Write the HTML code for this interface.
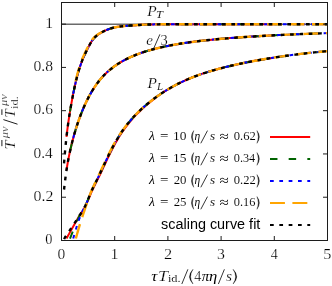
<!DOCTYPE html>
<html><head><meta charset="utf-8"><title>plot</title>
<style>html,body{margin:0;padding:0;background:#fff;}svg{display:block;}</style>
</head><body>
<svg width="332" height="286" viewBox="0 0 332 286">
<rect x="0" y="0" width="332" height="286" fill="#fff"/>
<line x1="61.5" y1="24.14" x2="327.5" y2="24.14" stroke="#6a6a6a" stroke-width="1.5"/>
<path d="M66.50,136.85 L66.51,136.78 L66.53,136.56 L66.57,136.20 L66.63,135.69 L66.71,135.05 L66.80,134.28 L66.90,133.37 L67.03,132.35 L67.17,131.21 L67.32,129.95 L67.50,128.60 L67.68,127.15 L67.89,125.61 L68.11,123.98 L68.35,122.28 L68.61,120.52 L68.88,118.68 L69.16,116.79 L69.47,114.84 L69.79,112.84 L70.13,110.78 L70.48,108.68 L70.85,106.53 L71.24,104.33 L71.64,102.08 L72.06,99.80 L72.49,97.49 L72.94,95.15 L73.41,92.79 L73.90,90.43 L74.40,88.06 L74.92,85.70 L75.45,83.34 L76.00,81.01 L76.57,78.70 L77.15,76.42 L77.75,74.18 L78.37,71.99 L79.00,69.84 L79.65,67.74 L80.32,65.71 L81.00,63.73 L81.70,61.83 L82.41,59.98 L83.15,58.19 L83.89,56.45 L84.66,54.74 L85.44,53.05 L86.24,51.39 L87.05,49.75 L87.88,48.11 L88.73,46.48 L89.59,44.87 L90.47,43.30 L91.37,41.81 L92.28,40.43 L93.21,39.16 L94.15,38.02 L95.11,37.02 L96.09,36.12 L97.09,35.32 L98.10,34.58 L99.12,33.89 L100.17,33.23 L101.23,32.61 L102.31,32.02 L103.40,31.45 L104.51,30.91 L105.63,30.39 L106.78,29.90 L107.94,29.44 L109.11,29.01 L110.30,28.61 L111.51,28.24 L112.74,27.90 L113.98,27.59 L115.23,27.31 L116.51,27.06 L117.80,26.83 L119.11,26.63 L120.43,26.45 L121.77,26.30 L123.13,26.16 L124.50,26.03 L125.89,25.91 L127.29,25.80 L128.71,25.69 L130.15,25.59 L131.61,25.48 L133.08,25.38 L134.57,25.28 L136.07,25.17 L137.59,25.06 L139.13,24.96 L140.68,24.86 L142.25,24.77 L143.84,24.69 L145.44,24.62 L147.06,24.56 L148.70,24.51 L150.35,24.46 L152.02,24.42 L153.70,24.39 L155.40,24.36 L157.12,24.34 L158.86,24.32 L160.61,24.30 L162.37,24.28 L164.16,24.27 L165.96,24.26 L167.77,24.25 L169.61,24.24 L171.46,24.24 L173.32,24.23 L175.20,24.23 L177.10,24.22 L179.02,24.22 L180.95,24.22 L182.90,24.21 L184.86,24.21 L186.84,24.21 L188.84,24.21 L190.85,24.21 L192.89,24.21 L194.93,24.21 L196.99,24.20 L199.07,24.20 L201.17,24.20 L203.28,24.20 L205.41,24.20 L207.56,24.20 L209.72,24.20 L211.90,24.20 L214.09,24.20 L216.30,24.20 L218.53,24.20 L220.77,24.20 L223.03,24.20 L225.31,24.20 L227.60,24.20 L229.91,24.20 L232.24,24.20 L234.58,24.20 L236.94,24.20 L239.32,24.20 L241.71,24.20 L244.12,24.20 L246.54,24.20 L248.98,24.20 L251.44,24.20 L253.92,24.20 L256.41,24.20 L258.91,24.20 L261.44,24.20 L263.98,24.20 L266.53,24.20 L269.11,24.20 L271.69,24.20 L274.30,24.20" fill="none" stroke="#ff0000" stroke-width="2.0"/>
<path d="M66.50,170.23 L66.51,170.17 L66.53,170.01 L66.57,169.74 L66.63,169.36 L66.71,168.88 L66.80,168.30 L66.90,167.62 L67.03,166.85 L67.17,166.00 L67.32,165.06 L67.50,164.04 L67.68,162.95 L67.89,161.80 L68.11,160.59 L68.35,159.32 L68.61,158.00 L68.88,156.64 L69.16,155.22 L69.47,153.77 L69.79,152.28 L70.13,150.74 L70.48,149.18 L70.85,147.57 L71.24,145.94 L71.64,144.28 L72.06,142.59 L72.49,140.88 L72.94,139.15 L73.41,137.40 L73.90,135.64 L74.40,133.87 L74.92,132.09 L75.45,130.30 L76.00,128.50 L76.57,126.71 L77.15,124.91 L77.75,123.11 L78.37,121.31 L79.00,119.51 L79.65,117.72 L80.32,115.93 L81.00,114.15 L81.70,112.38 L82.41,110.61 L83.15,108.85 L83.89,107.11 L84.66,105.37 L85.44,103.65 L86.24,101.95 L87.05,100.26 L87.88,98.60 L88.73,96.96 L89.59,95.35 L90.47,93.76 L91.37,92.20 L92.28,90.67 L93.21,89.18 L94.15,87.71 L95.11,86.27 L96.09,84.86 L97.09,83.49 L98.10,82.15 L99.12,80.84 L100.17,79.57 L101.23,78.33 L102.31,77.12 L103.40,75.94 L104.51,74.79 L105.63,73.68 L106.78,72.59 L107.94,71.54 L109.11,70.51 L110.30,69.50 L111.51,68.53 L112.74,67.58 L113.98,66.65 L115.23,65.75 L116.51,64.88 L117.80,64.02 L119.11,63.19 L120.43,62.39 L121.77,61.60 L123.13,60.83 L124.50,60.09 L125.89,59.36 L127.29,58.66 L128.71,57.97 L130.15,57.30 L131.61,56.65 L133.08,56.02 L134.57,55.40 L136.07,54.80 L137.59,54.21 L139.13,53.64 L140.68,53.09 L142.25,52.55 L143.84,52.02 L145.44,51.51 L147.06,51.01 L148.70,50.53 L150.35,50.05 L152.02,49.59 L153.70,49.14 L155.40,48.70 L157.12,48.27 L158.86,47.85 L160.61,47.45 L162.37,47.05 L164.16,46.66 L165.96,46.29 L167.77,45.92 L169.61,45.56 L171.46,45.21 L173.32,44.87 L175.20,44.53 L177.10,44.21 L179.02,43.89 L180.95,43.58 L182.90,43.28 L184.86,42.98 L186.84,42.69 L188.84,42.41 L190.85,42.13 L192.89,41.87 L194.93,41.60 L196.99,41.35 L199.07,41.09 L201.17,40.85 L203.28,40.61 L205.41,40.37 L207.56,40.14 L209.72,39.92 L211.90,39.70 L214.09,39.48 L216.30,39.27 L218.53,39.07 L220.77,38.86 L223.03,38.67 L225.31,38.47 L227.60,38.28 L229.91,38.10 L232.24,37.92 L234.58,37.74 L236.94,37.56 L239.32,37.39 L241.71,37.22 L244.12,37.06 L246.54,36.90 L248.98,36.74 L251.44,36.58 L253.92,36.43 L256.41,36.28 L258.91,36.13 L261.44,35.99 L263.98,35.85 L266.53,35.71 L269.11,35.57 L271.69,35.43 L274.30,35.30" fill="none" stroke="#ff0000" stroke-width="2.0"/>
<path d="M66.50,238.55 L66.83,237.96 L67.15,237.37 L67.47,236.78 L67.79,236.20 L68.12,235.61 L68.44,235.03 L68.76,234.45 L69.08,233.87 L69.41,233.29 L69.73,232.71 L70.05,232.13 L70.37,231.56 L70.70,230.98 L71.02,230.40 L71.34,229.83 L71.67,229.25 L71.99,228.67 L72.31,228.10 L72.63,227.52 L72.96,226.95 L73.28,226.38 L73.60,225.80 L73.93,225.23 L74.25,224.66 L74.58,224.09 L74.90,223.52 L75.22,222.95 L75.55,222.39 L75.87,221.82 L76.20,221.26 L76.52,220.70 L76.85,220.14 L77.17,219.58 L77.50,219.03 L77.82,218.48 L78.15,217.93 L78.48,217.39 L78.80,216.86 L79.13,216.34 L79.14,216.32 L79.18,216.26 L79.24,216.16 L79.34,216.03 L79.45,215.85 L79.60,215.63 L79.77,215.38 L79.96,215.08 L80.18,214.75 L80.43,214.38 L80.71,213.97 L81.01,213.51 L81.34,213.02 L81.69,212.48 L82.07,211.89 L82.48,211.25 L82.92,210.55 L83.38,209.79 L83.87,208.95 L84.39,208.04 L84.93,207.03 L85.50,205.93 L86.10,204.72 L86.72,203.38 L87.37,201.91 L88.05,200.32 L88.75,198.61 L89.47,196.82 L90.22,195.00 L90.99,193.17 L91.79,191.37 L92.61,189.59 L93.45,187.81 L94.32,186.04 L95.22,184.24 L96.14,182.41 L97.08,180.53 L98.05,178.59 L99.05,176.57 L100.07,174.46 L101.11,172.26 L102.18,169.99 L103.28,167.65 L104.40,165.26 L105.54,162.82 L106.71,160.34 L107.91,157.84 L109.13,155.33 L110.38,152.81 L111.65,150.29 L112.94,147.78 L114.27,145.30 L115.61,142.85 L116.98,140.43 L118.38,138.07 L119.80,135.76 L121.25,133.50 L122.72,131.31 L124.22,129.18 L125.75,127.10 L127.30,125.07 L128.87,123.10 L130.47,121.17 L132.10,119.29 L133.75,117.45 L135.43,115.65 L137.13,113.89 L138.85,112.17 L140.60,110.48 L142.37,108.83 L144.17,107.19 L145.98,105.59 L147.82,104.00 L149.67,102.43 L151.55,100.88 L153.45,99.35 L155.38,97.84 L157.35,96.37 L159.35,94.94 L161.38,93.54 L163.44,92.18 L165.53,90.85 L167.64,89.55 L169.79,88.28 L171.96,87.04 L174.16,85.83 L176.38,84.66 L178.63,83.51 L180.91,82.39 L183.21,81.30 L185.54,80.25 L187.89,79.22 L190.27,78.22 L192.68,77.26 L195.11,76.32 L197.56,75.41 L200.04,74.53 L202.55,73.67 L205.08,72.83 L207.64,72.02 L210.23,71.23 L212.84,70.46 L215.47,69.72 L218.14,68.98 L220.82,68.27 L223.54,67.57 L226.28,66.89 L229.04,66.23 L231.83,65.57 L234.65,64.93 L237.49,64.31 L240.36,63.69 L243.25,63.09 L246.17,62.49 L249.11,61.91 L252.08,61.34 L255.08,60.78 L258.10,60.23 L261.15,59.69 L264.22,59.16 L267.32,58.64 L270.45,58.14 L273.60,57.64" fill="none" stroke="#ff0000" stroke-width="2.0"/>
<path d="M70.01,111.47 L70.02,111.41 L70.05,111.22 L70.10,110.92 L70.17,110.49 L70.27,109.94 L70.38,109.27 L70.51,108.49 L70.66,107.60 L70.84,106.60 L71.03,105.49 L71.24,104.28 L71.48,102.96 L71.73,101.56 L72.01,100.06 L72.30,98.48 L72.62,96.82 L72.96,95.09 L73.31,93.30 L73.69,91.44 L74.09,89.53 L74.50,87.58 L74.94,85.59 L75.40,83.57 L75.88,81.53 L76.38,79.47 L76.90,77.41 L77.44,75.35 L78.00,73.30 L78.58,71.27 L79.18,69.26 L79.80,67.28 L80.44,65.34 L81.10,63.44 L81.79,61.60 L82.49,59.80 L83.21,58.03 L83.96,56.31 L84.72,54.60 L85.50,52.92 L86.31,51.25 L87.13,49.58 L87.98,47.92 L88.84,46.26 L89.73,44.61 L90.64,43.02 L91.56,41.50 L92.51,40.09 L93.48,38.81 L94.47,37.68 L95.47,36.67 L96.50,35.78 L97.55,34.97 L98.62,34.22 L99.71,33.51 L100.82,32.84 L101.95,32.21 L103.10,31.60 L104.27,31.02 L105.47,30.46 L106.68,29.94 L107.91,29.45 L109.16,28.99 L110.44,28.56 L111.73,28.17 L113.04,27.82 L114.38,27.50 L115.73,27.21 L117.11,26.95 L118.50,26.72 L119.92,26.52 L121.35,26.34 L122.81,26.19 L124.29,26.05 L125.79,25.92 L127.30,25.80 L128.84,25.68 L130.40,25.57 L131.98,25.46 L133.58,25.34 L135.20,25.23 L136.84,25.12 L138.50,25.00 L140.18,24.89 L141.88,24.79 L143.60,24.70 L145.34,24.62 L147.10,24.56 L148.88,24.50 L150.69,24.45 L152.51,24.41 L154.35,24.38 L156.22,24.35 L158.10,24.33 L160.01,24.31 L161.93,24.29 L163.88,24.27 L165.84,24.26 L167.83,24.25 L169.84,24.24 L171.86,24.24 L173.91,24.23 L175.98,24.22 L178.07,24.22 L180.17,24.22 L182.30,24.21 L184.45,24.21 L186.62,24.21 L188.81,24.21 L191.02,24.21 L193.25,24.21 L195.50,24.20 L197.77,24.20 L200.06,24.20 L202.38,24.20 L204.71,24.20 L207.06,24.20 L209.44,24.20 L211.83,24.20 L214.24,24.20 L216.68,24.20 L219.13,24.20 L221.61,24.20 L224.10,24.20 L226.62,24.20 L229.15,24.20 L231.71,24.20 L234.29,24.20 L236.88,24.20 L239.50,24.20 L242.14,24.20 L244.80,24.20 L247.48,24.20 L250.18,24.20 L252.89,24.20 L255.63,24.20 L258.39,24.20 L261.18,24.20 L263.98,24.20 L266.80,24.20 L269.64,24.20 L272.50,24.20 L275.38,24.20 L278.29,24.20 L281.21,24.20 L284.15,24.20 L287.12,24.20 L290.10,24.20 L293.11,24.20 L296.13,24.20 L299.18,24.20 L302.24,24.20 L305.33,24.20 L308.43,24.20 L311.56,24.20 L314.71,24.20 L317.88,24.20 L321.06,24.20 L324.27,24.20 L327.50,24.20" fill="none" stroke="#006400" stroke-width="2.0" stroke-dasharray="7.47,11.20"/>
<path d="M70.01,151.26 L70.02,151.21 L70.05,151.07 L70.10,150.84 L70.17,150.52 L70.27,150.11 L70.38,149.62 L70.51,149.04 L70.66,148.37 L70.84,147.62 L71.03,146.80 L71.24,145.90 L71.48,144.93 L71.73,143.89 L72.01,142.78 L72.30,141.61 L72.62,140.39 L72.96,139.11 L73.31,137.78 L73.69,136.40 L74.09,134.97 L74.50,133.51 L74.94,132.01 L75.40,130.47 L75.88,128.90 L76.38,127.31 L76.90,125.69 L77.44,124.05 L78.00,122.39 L78.58,120.71 L79.18,119.02 L79.80,117.32 L80.44,115.60 L81.10,113.88 L81.79,112.16 L82.49,110.43 L83.21,108.70 L83.96,106.97 L84.72,105.24 L85.50,103.51 L86.31,101.80 L87.13,100.09 L87.98,98.41 L88.84,96.74 L89.73,95.09 L90.64,93.47 L91.56,91.87 L92.51,90.29 L93.48,88.75 L94.47,87.23 L95.47,85.74 L96.50,84.29 L97.55,82.87 L98.62,81.47 L99.71,80.12 L100.82,78.80 L101.95,77.51 L103.10,76.25 L104.27,75.03 L105.47,73.84 L106.68,72.69 L107.91,71.56 L109.16,70.46 L110.44,69.39 L111.73,68.36 L113.04,67.35 L114.38,66.36 L115.73,65.41 L117.11,64.48 L118.50,63.57 L119.92,62.69 L121.35,61.84 L122.81,61.01 L124.29,60.20 L125.79,59.42 L127.30,58.65 L128.84,57.91 L130.40,57.19 L131.98,56.49 L133.58,55.81 L135.20,55.15 L136.84,54.50 L138.50,53.88 L140.18,53.27 L141.88,52.68 L143.60,52.10 L145.34,51.54 L147.10,51.00 L148.88,50.47 L150.69,49.96 L152.51,49.46 L154.35,48.97 L156.22,48.49 L158.10,48.03 L160.01,47.59 L161.93,47.15 L163.88,46.72 L165.84,46.31 L167.83,45.91 L169.84,45.52 L171.86,45.13 L173.91,44.76 L175.98,44.40 L178.07,44.05 L180.17,43.70 L182.30,43.37 L184.45,43.04 L186.62,42.72 L188.81,42.41 L191.02,42.11 L193.25,41.82 L195.50,41.53 L197.77,41.25 L200.06,40.98 L202.38,40.71 L204.71,40.45 L207.06,40.20 L209.44,39.95 L211.83,39.70 L214.24,39.47 L216.68,39.24 L219.13,39.01 L221.61,38.79 L224.10,38.57 L226.62,38.36 L229.15,38.16 L231.71,37.96 L234.29,37.76 L236.88,37.57 L239.50,37.38 L242.14,37.19 L244.80,37.01 L247.48,36.84 L250.18,36.66 L252.89,36.49 L255.63,36.33 L258.39,36.16 L261.18,36.00 L263.98,35.85 L266.80,35.69 L269.64,35.54 L272.50,35.39 L275.38,35.25 L278.29,35.10 L281.21,34.96 L284.15,34.83 L287.12,34.69 L290.10,34.56 L293.11,34.43 L296.13,34.30 L299.18,34.17 L302.24,34.05 L305.33,33.92 L308.43,33.80 L311.56,33.68 L314.71,33.57 L317.88,33.45 L321.06,33.34 L324.27,33.22 L327.50,33.11" fill="none" stroke="#006400" stroke-width="2.0" stroke-dasharray="7.47,11.20"/>
<path d="M70.01,238.55 L70.26,237.93 L70.50,237.30 L70.75,236.68 L70.99,236.05 L71.24,235.43 L71.49,234.81 L71.73,234.19 L71.98,233.57 L72.22,232.95 L72.47,232.33 L72.71,231.72 L72.96,231.10 L73.20,230.49 L73.45,229.88 L73.70,229.27 L73.94,228.66 L74.19,228.05 L74.43,227.44 L74.68,226.84 L74.92,226.24 L75.17,225.64 L75.41,225.04 L75.66,224.44 L75.90,223.85 L76.15,223.26 L76.40,222.67 L76.64,222.08 L76.89,221.50 L77.13,220.92 L77.38,220.35 L77.62,219.78 L77.87,219.21 L78.11,218.65 L78.36,218.09 L78.61,217.54 L78.85,217.00 L79.10,216.47 L79.34,215.96 L79.59,215.48 L79.60,215.46 L79.64,215.40 L79.70,215.30 L79.79,215.16 L79.91,214.98 L80.05,214.77 L80.22,214.51 L80.41,214.21 L80.63,213.88 L80.87,213.50 L81.14,213.09 L81.44,212.63 L81.76,212.12 L82.10,211.57 L82.48,210.96 L82.87,210.30 L83.30,209.57 L83.75,208.77 L84.22,207.90 L84.72,206.94 L85.25,205.89 L85.80,204.73 L86.38,203.46 L86.98,202.07 L87.61,200.55 L88.26,198.91 L88.94,197.19 L89.65,195.41 L90.38,193.61 L91.14,191.83 L91.92,190.08 L92.73,188.33 L93.56,186.58 L94.42,184.82 L95.31,183.03 L96.22,181.21 L97.15,179.33 L98.12,177.38 L99.10,175.35 L100.12,173.22 L101.16,171.02 L102.22,168.75 L103.31,166.41 L104.43,164.03 L105.57,161.60 L106.74,159.14 L107.93,156.65 L109.15,154.16 L110.40,151.65 L111.67,149.16 L112.96,146.68 L114.28,144.22 L115.63,141.80 L117.00,139.41 L118.40,137.07 L119.83,134.79 L121.28,132.56 L122.75,130.39 L124.25,128.28 L125.78,126.22 L127.33,124.22 L128.91,122.26 L130.52,120.35 L132.14,118.48 L133.80,116.66 L135.48,114.88 L137.19,113.14 L138.92,111.43 L140.68,109.76 L142.46,108.12 L144.27,106.52 L146.11,104.94 L147.97,103.39 L149.85,101.87 L151.76,100.37 L153.70,98.90 L155.66,97.45 L157.65,96.03 L159.67,94.64 L161.71,93.27 L163.77,91.93 L165.87,90.62 L167.98,89.33 L170.13,88.08 L172.29,86.85 L174.49,85.65 L176.71,84.49 L178.95,83.35 L181.22,82.24 L183.52,81.16 L185.84,80.11 L188.19,79.09 L190.57,78.10 L192.96,77.14 L195.39,76.21 L197.84,75.31 L200.32,74.43 L202.82,73.58 L205.35,72.75 L207.90,71.94 L210.48,71.16 L213.08,70.39 L215.71,69.65 L218.37,68.92 L221.05,68.21 L223.76,67.52 L226.49,66.84 L229.25,66.18 L232.04,65.53 L234.85,64.89 L237.68,64.27 L240.54,63.65 L243.43,63.05 L246.34,62.46 L249.28,61.88 L252.24,61.31 L255.23,60.75 L258.25,60.20 L261.29,59.66 L264.36,59.14 L267.45,58.62 L270.57,58.12 L273.71,57.62 L276.88,57.14 L280.08,56.66 L283.30,56.20 L286.54,55.75 L289.81,55.31 L293.11,54.88 L296.44,54.46 L299.78,54.05 L303.16,53.65 L306.56,53.26 L309.99,52.88 L313.44,52.51 L316.91,52.15 L320.42,51.80 L323.95,51.46 L327.50,51.13" fill="none" stroke="#006400" stroke-width="2.0" stroke-dasharray="7.47,11.20"/>
<path d="M73.20,93.84 L73.21,93.79 L73.24,93.64 L73.29,93.38 L73.36,93.03 L73.46,92.58 L73.57,92.04 L73.70,91.40 L73.85,90.67 L74.02,89.85 L74.21,88.95 L74.42,87.96 L74.65,86.90 L74.90,85.76 L75.18,84.55 L75.47,83.28 L75.78,81.95 L76.11,80.56 L76.46,79.13 L76.84,77.65 L77.23,76.14 L77.64,74.60 L78.07,73.03 L78.53,71.45 L79.00,69.85 L79.49,68.25 L80.00,66.65 L80.54,65.06 L81.09,63.48 L81.66,61.92 L82.26,60.38 L82.87,58.85 L83.50,57.35 L84.16,55.85 L84.83,54.36 L85.53,52.87 L86.24,51.38 L86.97,49.90 L87.73,48.41 L88.50,46.91 L89.30,45.41 L90.11,43.93 L90.95,42.49 L91.80,41.13 L92.68,39.86 L93.57,38.70 L94.49,37.65 L95.42,36.72 L96.38,35.88 L97.36,35.11 L98.35,34.40 L99.37,33.73 L100.40,33.09 L101.46,32.48 L102.54,31.89 L103.63,31.33 L104.75,30.79 L105.88,30.28 L107.04,29.79 L108.22,29.33 L109.42,28.90 L110.63,28.50 L111.87,28.13 L113.13,27.80 L114.40,27.49 L115.70,27.21 L117.02,26.96 L118.36,26.74 L119.72,26.55 L121.09,26.37 L122.49,26.22 L123.91,26.08 L125.35,25.96 L126.81,25.84 L128.29,25.72 L129.78,25.61 L131.30,25.51 L132.84,25.40 L134.40,25.29 L135.98,25.18 L137.58,25.06 L139.20,24.95 L140.84,24.85 L142.50,24.75 L144.18,24.67 L145.88,24.60 L147.60,24.54 L149.34,24.49 L151.10,24.44 L152.88,24.41 L154.68,24.37 L156.50,24.35 L158.34,24.32 L160.20,24.30 L162.08,24.29 L163.98,24.27 L165.91,24.26 L167.85,24.25 L169.81,24.24 L171.79,24.24 L173.79,24.23 L175.81,24.22 L177.86,24.22 L179.92,24.22 L182.00,24.21 L184.10,24.21 L186.22,24.21 L188.37,24.21 L190.53,24.21 L192.71,24.21 L194.92,24.21 L197.14,24.20 L199.38,24.20 L201.64,24.20 L203.93,24.20 L206.23,24.20 L208.55,24.20 L210.90,24.20 L213.26,24.20 L215.65,24.20 L218.05,24.20 L220.47,24.20 L222.92,24.20 L225.38,24.20 L227.87,24.20 L230.37,24.20 L232.90,24.20 L235.44,24.20 L238.01,24.20 L240.59,24.20 L243.20,24.20 L245.82,24.20 L248.47,24.20 L251.13,24.20 L253.82,24.20 L256.53,24.20 L259.25,24.20 L262.00,24.20 L264.76,24.20 L267.55,24.20 L270.36,24.20 L273.18,24.20 L276.03,24.20 L278.90,24.20 L281.78,24.20 L284.69,24.20 L287.62,24.20 L290.56,24.20 L293.53,24.20 L296.52,24.20 L299.53,24.20 L302.55,24.20 L305.60,24.20 L308.67,24.20 L311.76,24.20 L314.87,24.20 L317.99,24.20 L321.14,24.20 L324.31,24.20 L327.50,24.20" fill="none" stroke="#0000ff" stroke-width="2.0" stroke-dasharray="3.73,5.60"/>
<path d="M73.20,138.18 L73.21,138.14 L73.24,138.03 L73.29,137.84 L73.36,137.58 L73.46,137.25 L73.57,136.84 L73.70,136.37 L73.85,135.82 L74.02,135.21 L74.21,134.53 L74.42,133.79 L74.65,132.99 L74.90,132.13 L75.18,131.22 L75.47,130.25 L75.78,129.23 L76.11,128.16 L76.46,127.04 L76.84,125.88 L77.23,124.68 L77.64,123.44 L78.07,122.17 L78.53,120.86 L79.00,119.52 L79.49,118.16 L80.00,116.77 L80.54,115.35 L81.09,113.92 L81.66,112.46 L82.26,110.99 L82.87,109.51 L83.50,108.01 L84.16,106.50 L84.83,104.98 L85.53,103.46 L86.24,101.94 L86.97,100.42 L87.73,98.90 L88.50,97.39 L89.30,95.89 L90.11,94.40 L90.95,92.92 L91.80,91.46 L92.68,90.02 L93.57,88.60 L94.49,87.20 L95.42,85.82 L96.38,84.46 L97.36,83.13 L98.35,81.82 L99.37,80.54 L100.40,79.29 L101.46,78.06 L102.54,76.87 L103.63,75.70 L104.75,74.55 L105.88,73.44 L107.04,72.35 L108.22,71.28 L109.42,70.25 L110.63,69.23 L111.87,68.25 L113.13,67.28 L114.40,66.34 L115.70,65.43 L117.02,64.54 L118.36,63.67 L119.72,62.82 L121.09,61.99 L122.49,61.19 L123.91,60.40 L125.35,59.64 L126.81,58.90 L128.29,58.18 L129.78,57.47 L131.30,56.78 L132.84,56.12 L134.40,55.47 L135.98,54.83 L137.58,54.22 L139.20,53.62 L140.84,53.04 L142.50,52.47 L144.18,51.91 L145.88,51.37 L147.60,50.85 L149.34,50.34 L151.10,49.84 L152.88,49.36 L154.68,48.88 L156.50,48.42 L158.34,47.98 L160.20,47.54 L162.08,47.12 L163.98,46.70 L165.91,46.30 L167.85,45.90 L169.81,45.52 L171.79,45.15 L173.79,44.78 L175.81,44.43 L177.86,44.08 L179.92,43.75 L182.00,43.42 L184.10,43.10 L186.22,42.78 L188.37,42.48 L190.53,42.18 L192.71,41.89 L194.92,41.60 L197.14,41.33 L199.38,41.06 L201.64,40.79 L203.93,40.54 L206.23,40.28 L208.55,40.04 L210.90,39.80 L213.26,39.56 L215.65,39.33 L218.05,39.11 L220.47,38.89 L222.92,38.68 L225.38,38.47 L227.87,38.26 L230.37,38.06 L232.90,37.86 L235.44,37.67 L238.01,37.49 L240.59,37.30 L243.20,37.12 L245.82,36.94 L248.47,36.77 L251.13,36.60 L253.82,36.44 L256.53,36.27 L259.25,36.11 L262.00,35.96 L264.76,35.80 L267.55,35.65 L270.36,35.50 L273.18,35.36 L276.03,35.22 L278.90,35.07 L281.78,34.94 L284.69,34.80 L287.62,34.67 L290.56,34.54 L293.53,34.41 L296.52,34.28 L299.53,34.16 L302.55,34.03 L305.60,33.91 L308.67,33.79 L311.76,33.68 L314.87,33.56 L317.99,33.45 L321.14,33.33 L324.31,33.22 L327.50,33.11" fill="none" stroke="#0000ff" stroke-width="2.0" stroke-dasharray="3.73,5.60"/>
<path d="M73.20,238.55 L73.45,237.67 L73.70,236.80 L73.94,235.93 L74.19,235.07 L74.43,234.22 L74.68,233.37 L74.92,232.53 L75.17,231.70 L75.41,230.87 L75.66,230.05 L75.90,229.24 L76.15,228.43 L76.40,227.64 L76.64,226.85 L76.89,226.06 L77.13,225.29 L77.38,224.53 L77.62,223.77 L77.87,223.02 L78.11,222.28 L78.36,221.55 L78.61,220.83 L78.85,220.12 L79.10,219.42 L79.34,218.73 L79.59,218.05 L79.83,217.38 L80.08,216.72 L80.32,216.08 L80.57,215.45 L80.82,214.83 L81.06,214.23 L81.31,213.63 L81.55,213.06 L81.80,212.49 L82.04,211.95 L82.29,211.42 L82.53,210.92 L82.78,210.45 L82.79,210.43 L82.83,210.37 L82.89,210.26 L82.98,210.11 L83.10,209.92 L83.24,209.67 L83.40,209.39 L83.59,209.05 L83.81,208.66 L84.05,208.22 L84.31,207.73 L84.60,207.17 L84.92,206.55 L85.26,205.86 L85.63,205.09 L86.02,204.25 L86.44,203.32 L86.88,202.29 L87.35,201.17 L87.85,199.95 L88.37,198.64 L88.91,197.27 L89.48,195.83 L90.08,194.35 L90.70,192.86 L91.34,191.36 L92.01,189.87 L92.71,188.37 L93.43,186.85 L94.18,185.31 L94.95,183.75 L95.75,182.14 L96.57,180.49 L97.42,178.79 L98.30,177.01 L99.20,175.16 L100.12,173.22 L101.07,171.21 L102.05,169.13 L103.05,166.99 L104.07,164.79 L105.12,162.55 L106.20,160.27 L107.30,157.96 L108.43,155.63 L109.58,153.29 L110.76,150.93 L111.96,148.59 L113.19,146.25 L114.45,143.93 L115.72,141.63 L117.03,139.37 L118.36,137.14 L119.71,134.96 L121.09,132.83 L122.50,130.76 L123.93,128.73 L125.39,126.74 L126.87,124.81 L128.38,122.91 L129.91,121.06 L131.47,119.25 L133.05,117.48 L134.66,115.74 L136.29,114.04 L137.95,112.38 L139.64,110.74 L141.35,109.14 L143.08,107.57 L144.84,106.02 L146.63,104.50 L148.44,103.01 L150.28,101.53 L152.14,100.08 L154.03,98.66 L155.94,97.25 L157.88,95.88 L159.84,94.52 L161.83,93.19 L163.84,91.89 L165.88,90.61 L167.95,89.36 L170.04,88.13 L172.15,86.93 L174.29,85.76 L176.46,84.62 L178.65,83.50 L180.87,82.41 L183.11,81.35 L185.37,80.32 L187.67,79.31 L189.99,78.34 L192.33,77.39 L194.70,76.47 L197.09,75.58 L199.51,74.71 L201.95,73.87 L204.42,73.05 L206.92,72.25 L209.44,71.47 L211.99,70.71 L214.56,69.97 L217.15,69.25 L219.78,68.55 L222.42,67.86 L225.10,67.18 L227.79,66.52 L230.52,65.88 L233.26,65.25 L236.04,64.63 L238.84,64.02 L241.66,63.42 L244.51,62.83 L247.39,62.25 L250.29,61.68 L253.21,61.13 L256.17,60.58 L259.14,60.04 L262.14,59.52 L265.17,59.00 L268.22,58.50 L271.30,58.00 L274.40,57.52 L277.53,57.04 L280.69,56.58 L283.87,56.12 L287.07,55.68 L290.30,55.24 L293.56,54.82 L296.84,54.41 L300.14,54.00 L303.47,53.61 L306.83,53.22 L310.21,52.85 L313.62,52.49 L317.05,52.13 L320.51,51.79 L323.99,51.45 L327.50,51.13" fill="none" stroke="#0000ff" stroke-width="2.0" stroke-dasharray="3.73,5.60"/>
<path d="M75.59,81.52 L75.60,81.48 L75.63,81.36 L75.68,81.15 L75.74,80.86 L75.83,80.49 L75.93,80.03 L76.05,79.50 L76.19,78.90 L76.35,78.22 L76.53,77.48 L76.73,76.66 L76.95,75.79 L77.19,74.85 L77.45,73.86 L77.73,72.82 L78.02,71.73 L78.34,70.60 L78.68,69.43 L79.04,68.23 L79.42,67.00 L79.82,65.76 L80.24,64.49 L80.69,63.21 L81.15,61.93 L81.64,60.64 L82.14,59.36 L82.67,58.06 L83.22,56.77 L83.79,55.47 L84.37,54.17 L84.98,52.86 L85.61,51.55 L86.26,50.22 L86.93,48.89 L87.62,47.54 L88.33,46.18 L89.06,44.81 L89.81,43.46 L90.59,42.15 L91.39,40.89 L92.21,39.70 L93.06,38.59 L93.94,37.59 L94.84,36.69 L95.76,35.89 L96.71,35.16 L97.68,34.50 L98.66,33.89 L99.66,33.32 L100.68,32.77 L101.71,32.23 L102.75,31.71 L103.80,31.20 L104.88,30.70 L105.97,30.22 L107.07,29.77 L108.20,29.33 L109.35,28.92 L110.51,28.54 L111.70,28.18 L112.90,27.85 L114.13,27.55 L115.37,27.28 L116.63,27.03 L117.92,26.81 L119.22,26.61 L120.55,26.44 L121.89,26.28 L123.25,26.14 L124.64,26.02 L126.04,25.90 L127.46,25.79 L128.91,25.68 L130.37,25.57 L131.85,25.47 L133.36,25.36 L134.88,25.25 L136.42,25.15 L137.98,25.04 L139.57,24.93 L141.17,24.83 L142.79,24.74 L144.43,24.66 L146.10,24.59 L147.78,24.53 L149.48,24.48 L151.20,24.44 L152.94,24.41 L154.71,24.37 L156.49,24.35 L158.29,24.32 L160.11,24.30 L161.95,24.29 L163.81,24.27 L165.69,24.26 L167.60,24.25 L169.52,24.24 L171.46,24.24 L173.42,24.23 L175.40,24.23 L177.40,24.22 L179.42,24.22 L181.46,24.21 L183.52,24.21 L185.60,24.21 L187.70,24.21 L189.82,24.21 L191.96,24.21 L194.12,24.21 L196.30,24.20 L198.50,24.20 L200.72,24.20 L202.96,24.20 L205.22,24.20 L207.50,24.20 L209.80,24.20 L212.12,24.20 L214.46,24.20 L216.82,24.20 L219.20,24.20 L221.59,24.20 L224.01,24.20 L226.45,24.20 L228.91,24.20 L231.39,24.20 L233.89,24.20 L236.41,24.20 L238.94,24.20 L241.50,24.20 L244.08,24.20 L246.68,24.20 L249.29,24.20 L251.93,24.20 L254.59,24.20 L257.27,24.20 L259.97,24.20 L262.68,24.20 L265.42,24.20 L268.18,24.20 L270.95,24.20 L273.75,24.20 L276.57,24.20 L279.40,24.20 L282.26,24.20 L285.14,24.20 L288.03,24.20 L290.95,24.20 L293.89,24.20 L296.84,24.20 L299.82,24.20 L302.82,24.20 L305.83,24.20 L308.87,24.20 L311.92,24.20 L315.00,24.20 L318.09,24.20 L321.21,24.20 L324.34,24.20 L327.50,24.20" fill="none" stroke="#ffa500" stroke-width="2.4" stroke-dasharray="14.93,7.47"/>
<path d="M75.86,128.95 L75.87,128.92 L75.90,128.82 L75.95,128.66 L76.02,128.44 L76.11,128.15 L76.22,127.80 L76.35,127.39 L76.50,126.92 L76.67,126.39 L76.86,125.81 L77.07,125.16 L77.30,124.47 L77.55,123.72 L77.81,122.92 L78.10,122.08 L78.41,121.18 L78.74,120.25 L79.09,119.27 L79.46,118.25 L79.85,117.19 L80.25,116.10 L80.68,114.98 L81.13,113.82 L81.60,112.63 L82.08,111.42 L82.59,110.18 L83.12,108.91 L83.67,107.63 L84.23,106.33 L84.82,105.01 L85.43,103.67 L86.06,102.33 L86.70,100.97 L87.37,99.61 L88.06,98.25 L88.76,96.89 L89.49,95.53 L90.24,94.18 L91.00,92.83 L91.79,91.49 L92.60,90.15 L93.42,88.84 L94.27,87.53 L95.13,86.24 L96.02,84.96 L96.93,83.71 L97.85,82.47 L98.80,81.25 L99.76,80.06 L100.75,78.88 L101.75,77.73 L102.78,76.60 L103.82,75.50 L104.89,74.41 L105.97,73.35 L107.08,72.31 L108.20,71.30 L109.35,70.30 L110.51,69.33 L111.70,68.38 L112.90,67.45 L114.13,66.55 L115.37,65.66 L116.63,64.79 L117.92,63.95 L119.22,63.12 L120.55,62.32 L121.89,61.53 L123.25,60.76 L124.64,60.02 L126.04,59.29 L127.46,58.57 L128.91,57.88 L130.37,57.20 L131.85,56.54 L133.36,55.90 L134.88,55.27 L136.42,54.66 L137.98,54.07 L139.57,53.49 L141.17,52.92 L142.79,52.37 L144.43,51.83 L146.10,51.31 L147.78,50.80 L149.48,50.30 L151.20,49.81 L152.94,49.34 L154.71,48.88 L156.49,48.43 L158.29,47.99 L160.11,47.56 L161.95,47.14 L163.81,46.74 L165.69,46.34 L167.60,45.95 L169.52,45.58 L171.46,45.21 L173.42,44.85 L175.40,44.50 L177.40,44.16 L179.42,43.83 L181.46,43.50 L183.52,43.18 L185.60,42.87 L187.70,42.57 L189.82,42.28 L191.96,41.99 L194.12,41.71 L196.30,41.43 L198.50,41.16 L200.72,40.90 L202.96,40.64 L205.22,40.39 L207.50,40.15 L209.80,39.91 L212.12,39.68 L214.46,39.45 L216.82,39.22 L219.20,39.01 L221.59,38.79 L224.01,38.58 L226.45,38.38 L228.91,38.18 L231.39,37.98 L233.89,37.79 L236.41,37.60 L238.94,37.42 L241.50,37.24 L244.08,37.06 L246.68,36.89 L249.29,36.72 L251.93,36.55 L254.59,36.39 L257.27,36.23 L259.97,36.07 L262.68,35.92 L265.42,35.77 L268.18,35.62 L270.95,35.47 L273.75,35.33 L276.57,35.19 L279.40,35.05 L282.26,34.91 L285.14,34.78 L288.03,34.65 L290.95,34.52 L293.89,34.39 L296.84,34.27 L299.82,34.14 L302.82,34.02 L305.83,33.90 L308.87,33.79 L311.92,33.67 L315.00,33.56 L318.09,33.44 L321.21,33.33 L324.34,33.22 L327.50,33.11" fill="none" stroke="#ffa500" stroke-width="2.4" stroke-dasharray="14.93,7.47"/>
<path d="M75.86,238.55 L76.20,237.28 L76.55,236.03 L76.89,234.78 L77.23,233.55 L77.57,232.34 L77.91,231.13 L78.25,229.95 L78.59,228.77 L78.93,227.61 L79.27,226.46 L79.61,225.33 L79.96,224.21 L80.30,223.11 L80.64,222.02 L80.98,220.95 L81.32,219.89 L81.66,218.84 L82.00,217.80 L82.34,216.76 L82.68,215.73 L83.02,214.71 L83.36,213.68 L83.71,212.66 L84.05,211.64 L84.39,210.62 L84.73,209.61 L85.07,208.59 L85.41,207.57 L85.75,206.55 L86.09,205.52 L86.43,204.50 L86.77,203.48 L87.11,202.46 L87.45,201.44 L87.78,200.42 L88.12,199.43 L88.46,198.45 L88.80,197.51 L89.14,196.61 L89.15,196.58 L89.18,196.49 L89.25,196.33 L89.33,196.11 L89.44,195.83 L89.57,195.49 L89.73,195.09 L89.91,194.64 L90.12,194.12 L90.35,193.55 L90.60,192.93 L90.88,192.26 L91.18,191.55 L91.51,190.79 L91.85,189.99 L92.23,189.15 L92.62,188.27 L93.03,187.35 L93.47,186.40 L93.93,185.40 L94.42,184.36 L94.93,183.28 L95.46,182.15 L96.02,180.98 L96.60,179.76 L97.21,178.48 L97.85,177.15 L98.52,175.75 L99.21,174.28 L99.93,172.75 L100.67,171.15 L101.44,169.50 L102.24,167.78 L103.07,166.01 L103.92,164.19 L104.79,162.32 L105.69,160.41 L106.62,158.47 L107.57,156.49 L108.54,154.49 L109.55,152.47 L110.57,150.43 L111.63,148.39 L112.71,146.34 L113.81,144.30 L114.95,142.27 L116.12,140.26 L117.32,138.27 L118.56,136.32 L119.83,134.40 L121.13,132.52 L122.44,130.67 L123.77,128.86 L125.11,127.06 L126.46,125.30 L127.84,123.56 L129.24,121.86 L130.66,120.18 L132.10,118.53 L133.57,116.91 L135.06,115.31 L136.58,113.75 L138.12,112.21 L139.69,110.69 L141.28,109.20 L142.90,107.73 L144.54,106.28 L146.20,104.86 L147.89,103.45 L149.61,102.06 L151.35,100.70 L153.11,99.34 L154.90,98.01 L156.71,96.70 L158.55,95.40 L160.41,94.13 L162.30,92.88 L164.21,91.65 L166.15,90.44 L168.11,89.26 L170.10,88.09 L172.11,86.96 L174.14,85.84 L176.20,84.75 L178.29,83.68 L180.40,82.64 L182.53,81.62 L184.69,80.63 L186.87,79.66 L189.08,78.71 L191.32,77.80 L193.57,76.91 L195.85,76.04 L198.16,75.19 L200.49,74.37 L202.85,73.57 L205.23,72.79 L207.64,72.03 L210.07,71.28 L212.52,70.56 L215.00,69.85 L217.50,69.16 L220.03,68.48 L222.59,67.82 L225.16,67.17 L227.77,66.53 L230.39,65.91 L233.05,65.30 L235.72,64.70 L238.42,64.10 L241.15,63.52 L243.90,62.95 L246.68,62.39 L249.48,61.84 L252.30,61.30 L255.15,60.77 L258.03,60.24 L260.92,59.73 L263.85,59.22 L266.80,58.73 L269.77,58.24 L272.77,57.77 L275.79,57.30 L278.84,56.85 L281.91,56.40 L285.00,55.96 L288.12,55.53 L291.27,55.12 L294.44,54.71 L297.64,54.31 L300.86,53.92 L304.10,53.54 L307.37,53.16 L310.66,52.80 L313.98,52.45 L317.32,52.11 L320.69,51.77 L324.08,51.44 L327.50,51.13" fill="none" stroke="#ffa500" stroke-width="2.4" stroke-dasharray="14.93,7.47"/>
<path d="M64.05,163.41 L64.06,163.28 L64.10,162.86 L64.15,162.18 L64.22,161.23 L64.31,160.03 L64.43,158.59 L64.56,156.92 L64.72,155.05 L64.90,152.99 L65.10,150.76 L65.31,148.39 L65.55,145.88 L65.81,143.26 L66.10,140.55 L66.40,137.77 L66.72,134.92 L67.07,132.03 L67.43,129.11 L67.82,126.16 L68.22,123.19 L68.65,120.21 L69.10,117.22 L69.57,114.22 L70.06,111.20 L70.57,108.17 L71.10,105.10 L71.65,102.01 L72.22,98.91 L72.82,95.80 L73.43,92.70 L74.07,89.62 L74.72,86.57 L75.40,83.56 L76.10,80.61 L76.82,77.72 L77.56,74.90 L78.32,72.16 L79.10,69.51 L79.90,66.96 L80.73,64.51 L81.57,62.17 L82.44,59.93 L83.32,57.77 L84.23,55.69 L85.16,53.66 L86.10,51.67 L87.07,49.70 L88.06,47.76 L89.07,45.83 L90.11,43.94 L91.16,42.15 L92.23,40.49 L93.33,39.00 L94.44,37.70 L95.58,36.58 L96.73,35.59 L97.91,34.71 L99.11,33.90 L100.33,33.14 L101.57,32.42 L102.83,31.74 L104.11,31.10 L105.41,30.49 L106.74,29.92 L108.08,29.38 L109.45,28.89 L110.83,28.44 L112.24,28.03 L113.67,27.66 L115.12,27.33 L116.58,27.04 L118.07,26.79 L119.59,26.56 L121.12,26.37 L122.67,26.20 L124.24,26.05 L125.84,25.92 L127.45,25.79 L129.09,25.67 L130.75,25.55 L132.42,25.43 L134.12,25.31 L135.84,25.19 L137.58,25.06 L139.34,24.94 L141.13,24.83 L142.93,24.73 L144.75,24.65 L146.60,24.57 L148.46,24.51 L150.35,24.46 L152.25,24.42 L154.18,24.38 L156.13,24.35 L158.10,24.33 L160.09,24.30 L162.10,24.29 L164.13,24.27 L166.19,24.26 L168.26,24.25 L170.36,24.24 L172.47,24.23 L174.61,24.23 L176.76,24.22 L178.94,24.22 L181.14,24.22 L183.36,24.21 L185.60,24.21 L187.86,24.21 L190.14,24.21 L192.45,24.21 L194.77,24.21 L197.12,24.20 L199.48,24.20 L201.87,24.20 L204.27,24.20 L206.70,24.20 L209.15,24.20 L211.62,24.20 L214.11,24.20 L216.62,24.20 L219.16,24.20 L221.71,24.20 L224.28,24.20 L226.88,24.20 L229.49,24.20 L232.13,24.20 L234.79,24.20 L237.46,24.20 L240.16,24.20 L242.88,24.20 L245.62,24.20 L248.39,24.20 L251.17,24.20 L253.97,24.20 L256.80,24.20 L259.64,24.20 L262.51,24.20 L265.39,24.20 L268.30,24.20 L271.23,24.20 L274.18,24.20 L277.15,24.20 L280.14,24.20 L283.15,24.20 L286.18,24.20 L289.24,24.20 L292.31,24.20 L295.40,24.20 L298.52,24.20 L301.66,24.20 L304.81,24.20 L307.99,24.20 L311.19,24.20 L314.41,24.20 L317.65,24.20 L320.91,24.20 L324.20,24.20 L327.50,24.20" fill="none" stroke="#000000" stroke-width="2.4" stroke-dasharray="3.73,5.60"/>
<path d="M64.05,189.57 L64.06,189.48 L64.10,189.19 L64.15,188.70 L64.22,188.03 L64.31,187.19 L64.43,186.16 L64.56,184.97 L64.72,183.63 L64.90,182.14 L65.10,180.53 L65.31,178.79 L65.55,176.94 L65.81,175.01 L66.10,172.99 L66.40,170.92 L66.72,168.79 L67.07,166.62 L67.43,164.42 L67.82,162.22 L68.22,160.00 L68.65,157.78 L69.10,155.55 L69.57,153.31 L70.06,151.06 L70.57,148.79 L71.10,146.51 L71.65,144.23 L72.22,141.93 L72.82,139.63 L73.43,137.33 L74.07,135.04 L74.72,132.75 L75.40,130.46 L76.10,128.19 L76.82,125.93 L77.56,123.68 L78.32,121.45 L79.10,119.24 L79.90,117.04 L80.73,114.86 L81.57,112.70 L82.44,110.56 L83.32,108.44 L84.23,106.34 L85.16,104.27 L86.10,102.23 L87.07,100.21 L88.06,98.24 L89.07,96.31 L90.11,94.41 L91.16,92.56 L92.23,90.75 L93.33,88.99 L94.44,87.27 L95.58,85.60 L96.73,83.97 L97.91,82.39 L99.11,80.86 L100.33,79.38 L101.57,77.94 L102.83,76.55 L104.11,75.20 L105.41,73.89 L106.74,72.63 L108.08,71.41 L109.45,70.22 L110.83,69.07 L112.24,67.96 L113.67,66.88 L115.12,65.84 L116.58,64.83 L118.07,63.85 L119.59,62.90 L121.12,61.98 L122.67,61.09 L124.24,60.23 L125.84,59.39 L127.45,58.58 L129.09,57.79 L130.75,57.03 L132.42,56.30 L134.12,55.58 L135.84,54.89 L137.58,54.22 L139.34,53.57 L141.13,52.94 L142.93,52.32 L144.75,51.73 L146.60,51.15 L148.46,50.59 L150.35,50.05 L152.25,49.52 L154.18,49.01 L156.13,48.52 L158.10,48.03 L160.09,47.57 L162.10,47.11 L164.13,46.67 L166.19,46.24 L168.26,45.82 L170.36,45.42 L172.47,45.02 L174.61,44.64 L176.76,44.27 L178.94,43.90 L181.14,43.55 L183.36,43.21 L185.60,42.87 L187.86,42.55 L190.14,42.23 L192.45,41.92 L194.77,41.62 L197.12,41.33 L199.48,41.05 L201.87,40.77 L204.27,40.50 L206.70,40.23 L209.15,39.98 L211.62,39.73 L214.11,39.48 L216.62,39.24 L219.16,39.01 L221.71,38.78 L224.28,38.56 L226.88,38.34 L229.49,38.13 L232.13,37.92 L234.79,37.72 L237.46,37.52 L240.16,37.33 L242.88,37.14 L245.62,36.96 L248.39,36.78 L251.17,36.60 L253.97,36.43 L256.80,36.26 L259.64,36.09 L262.51,35.93 L265.39,35.77 L268.30,35.61 L271.23,35.46 L274.18,35.31 L277.15,35.16 L280.14,35.02 L283.15,34.87 L286.18,34.73 L289.24,34.60 L292.31,34.46 L295.40,34.33 L298.52,34.20 L301.66,34.07 L304.81,33.94 L307.99,33.82 L311.19,33.70 L314.41,33.58 L317.65,33.46 L320.91,33.34 L324.20,33.23 L327.50,33.11" fill="none" stroke="#000000" stroke-width="2.4" stroke-dasharray="3.73,5.60"/>
<path d="M64.05,238.98 L64.06,238.96 L64.10,238.90 L64.15,238.81 L64.22,238.69 L64.31,238.53 L64.43,238.34 L64.56,238.11 L64.72,237.86 L64.90,237.57 L65.10,237.26 L65.31,236.91 L65.55,236.54 L65.81,236.14 L66.10,235.71 L66.40,235.26 L66.72,234.77 L67.07,234.26 L67.43,233.72 L67.82,233.16 L68.22,232.56 L68.65,231.93 L69.10,231.27 L69.57,230.59 L70.06,229.87 L70.57,229.11 L71.10,228.33 L71.65,227.51 L72.22,226.65 L72.82,225.77 L73.43,224.85 L74.07,223.89 L74.72,222.90 L75.40,221.87 L76.10,220.81 L76.82,219.72 L77.56,218.59 L78.32,217.42 L79.10,216.22 L79.90,214.99 L80.73,213.73 L81.57,212.41 L82.44,211.03 L83.32,209.53 L84.23,207.88 L85.16,206.07 L86.10,204.07 L87.07,201.85 L88.06,199.41 L89.07,196.85 L90.11,194.28 L91.16,191.78 L92.23,189.39 L93.33,187.07 L94.44,184.78 L95.58,182.49 L96.73,180.17 L97.91,177.80 L99.11,175.34 L100.33,172.78 L101.57,170.15 L102.83,167.45 L104.11,164.71 L105.41,161.93 L106.74,159.14 L108.08,156.34 L109.45,153.56 L110.83,150.79 L112.24,148.05 L113.67,145.36 L115.12,142.71 L116.58,140.13 L118.07,137.61 L119.59,135.16 L121.12,132.80 L122.67,130.51 L124.24,128.29 L125.84,126.15 L127.45,124.06 L129.09,122.04 L130.75,120.08 L132.42,118.17 L134.12,116.31 L135.84,114.51 L137.58,112.74 L139.34,111.02 L141.13,109.35 L142.93,107.70 L144.75,106.10 L146.60,104.53 L148.46,102.99 L150.35,101.48 L152.25,100.00 L154.18,98.54 L156.13,97.12 L158.10,95.72 L160.09,94.35 L162.10,93.01 L164.13,91.70 L166.19,90.42 L168.26,89.17 L170.36,87.95 L172.47,86.75 L174.61,85.59 L176.76,84.46 L178.94,83.35 L181.14,82.28 L183.36,81.23 L185.60,80.22 L187.86,79.23 L190.14,78.27 L192.45,77.35 L194.77,76.45 L197.12,75.57 L199.48,74.72 L201.87,73.90 L204.27,73.10 L206.70,72.32 L209.15,71.56 L211.62,70.82 L214.11,70.10 L216.62,69.40 L219.16,68.71 L221.71,68.04 L224.28,67.39 L226.88,66.75 L229.49,66.12 L232.13,65.51 L234.79,64.90 L237.46,64.31 L240.16,63.73 L242.88,63.16 L245.62,62.60 L248.39,62.05 L251.17,61.51 L253.97,60.98 L256.80,60.46 L259.64,59.95 L262.51,59.45 L265.39,58.96 L268.30,58.48 L271.23,58.01 L274.18,57.55 L277.15,57.10 L280.14,56.66 L283.15,56.22 L286.18,55.80 L289.24,55.39 L292.31,54.98 L295.40,54.59 L298.52,54.20 L301.66,53.82 L304.81,53.45 L307.99,53.09 L311.19,52.74 L314.41,52.40 L317.65,52.07 L320.91,51.75 L324.20,51.43 L327.50,51.13" fill="none" stroke="#000000" stroke-width="2.4" stroke-dasharray="3.73,5.60"/>
<rect x="61.5" y="2.5" width="266.0" height="238.0" fill="none" stroke="#1c1c1c" stroke-width="1"/>
<path d="M114.70,240.5V236.0M114.70,2.5V7.0M167.90,240.5V236.0M167.90,2.5V7.0M221.10,240.5V236.0M221.10,2.5V7.0M274.30,240.5V236.0M274.30,2.5V7.0M61.5,197.23H66.0M327.5,197.23H323.0M61.5,153.95H66.0M327.5,153.95H323.0M61.5,110.68H66.0M327.5,110.68H323.0M61.5,67.41H66.0M327.5,67.41H323.0M61.5,24.14H66.0M327.5,24.14H323.0" fill="none" stroke="#1c1c1c" stroke-width="1"/>
<g opacity="0.999">
<text transform="translate(45.26,244.10) scale(0.997,1)" font-family="'Liberation Serif', serif" font-size="14.4" fill="#000" stroke="#fff" stroke-width="0.2">0</text>
<text transform="translate(33.50,200.83) scale(1.104,1)" font-family="'Liberation Serif', serif" font-size="14.4" fill="#000" stroke="#fff" stroke-width="0.2">0.2</text>
<text transform="translate(33.52,157.55) scale(1.067,1)" font-family="'Liberation Serif', serif" font-size="14.4" fill="#000" stroke="#fff" stroke-width="0.2">0.4</text>
<text transform="translate(33.52,114.28) scale(1.078,1)" font-family="'Liberation Serif', serif" font-size="14.4" fill="#000" stroke="#fff" stroke-width="0.2">0.6</text>
<text transform="translate(33.51,71.01) scale(1.087,1)" font-family="'Liberation Serif', serif" font-size="14.4" fill="#000" stroke="#fff" stroke-width="0.2">0.8</text>
<text transform="translate(45.13,27.74) scale(1.084,1)" font-family="'Liberation Serif', serif" font-size="14.4" fill="#000" stroke="#fff" stroke-width="0.2">1</text>
<text transform="translate(57.62,258.60) scale(1.078,1)" font-family="'Liberation Serif', serif" font-size="14.4" fill="#000" stroke="#fff" stroke-width="0.2">0</text>
<text transform="translate(110.51,258.60) scale(1.103,1)" font-family="'Liberation Serif', serif" font-size="14.4" fill="#000" stroke="#fff" stroke-width="0.2">1</text>
<text transform="translate(163.90,258.60) scale(1.139,1)" font-family="'Liberation Serif', serif" font-size="14.4" fill="#000" stroke="#fff" stroke-width="0.2">2</text>
<text transform="translate(217.04,258.60) scale(1.104,1)" font-family="'Liberation Serif', serif" font-size="14.4" fill="#000" stroke="#fff" stroke-width="0.2">3</text>
<text transform="translate(270.75,258.60) scale(0.980,1)" font-family="'Liberation Serif', serif" font-size="14.4" fill="#000" stroke="#fff" stroke-width="0.2">4</text>
<text transform="translate(323.26,258.60) scale(1.132,1)" font-family="'Liberation Serif', serif" font-size="14.4" fill="#000" stroke="#fff" stroke-width="0.2">5</text>
<text transform="translate(151.16,280.50) scale(1.182,1)" font-family="'Liberation Serif', serif" font-size="14.4" font-style="italic" fill="#000">τ</text>
<text transform="translate(157.96,280.50) scale(1.250,1)" font-family="'Liberation Serif', serif" font-size="14.4" font-style="italic" fill="#000" stroke="#fff" stroke-width="0.2">T</text>
<text transform="translate(167.95,282.40) scale(1.231,1)" font-family="'Liberation Serif', serif" font-size="10.0" fill="#000" stroke="#fff" stroke-width="0.08">id.</text>
<line x1="181.80" y1="284.00" x2="187.90" y2="269.30" stroke="#000" stroke-width="0.8"/>
<path d="M193.00,269.30 Q186.00,276.65 193.00,284.00 Q188.20,276.65 193.00,269.30Z" fill="#000" stroke="#000" stroke-width="0.35"/>
<text transform="translate(194.25,280.50) scale(0.980,1)" font-family="'Liberation Serif', serif" font-size="14.4" fill="#000" stroke="#fff" stroke-width="0.2">4</text>
<text transform="translate(201.83,280.50) scale(1.042,1)" font-family="'Liberation Serif', serif" font-size="14.4" font-style="italic" fill="#000">π</text>
<text transform="translate(209.12,280.50) scale(1.157,1)" font-family="'Liberation Serif', serif" font-size="14.4" font-style="italic" fill="#000">η</text>
<line x1="218.40" y1="284.00" x2="224.40" y2="269.30" stroke="#000" stroke-width="0.8"/>
<text transform="translate(226.05,280.50) scale(1.071,1)" font-family="'Liberation Serif', serif" font-size="14.4" font-style="italic" fill="#000" stroke="#fff" stroke-width="0.2">s</text>
<path d="M233.10,269.30 Q240.30,276.65 233.10,284.00 Q238.10,276.65 233.10,269.30Z" fill="#000" stroke="#000" stroke-width="0.35"/>
<text transform="translate(147.22,16.30) scale(1.074,1)" font-family="'Liberation Serif', serif" font-size="14.4" font-style="italic" fill="#000" stroke="#fff" stroke-width="0.2">P</text>
<text transform="translate(155.88,18.40) scale(1.250,1)" font-family="'Liberation Serif', serif" font-size="10.0" font-style="italic" fill="#000" stroke="#fff" stroke-width="0.08">T</text>
<text transform="translate(146.35,45.00) scale(1.044,1)" font-family="'Liberation Serif', serif" font-size="14.4" font-style="italic" fill="#000" stroke="#fff" stroke-width="0.2">e</text>
<line x1="153.60" y1="48.70" x2="159.90" y2="34.30" stroke="#000" stroke-width="0.8"/>
<text transform="translate(160.41,45.00) scale(1.004,1)" font-family="'Liberation Serif', serif" font-size="14.4" fill="#000" stroke="#fff" stroke-width="0.2">3</text>
<text transform="translate(147.62,87.80) scale(1.074,1)" font-family="'Liberation Serif', serif" font-size="14.4" font-style="italic" fill="#000" stroke="#fff" stroke-width="0.2">P</text>
<text transform="translate(157.04,90.30) scale(1.091,1)" font-family="'Liberation Serif', serif" font-size="10.0" font-style="italic" fill="#000" stroke="#fff" stroke-width="0.08">L</text>
<text transform="translate(148.94,140.30) scale(1.043,1)" font-family="'Liberation Serif', serif" font-size="13.0" font-style="italic" fill="#000">λ</text>
<text transform="translate(160.01,140.30) scale(1.250,1)" font-family="'Liberation Serif', serif" font-size="12.0" fill="#000">=</text>
<text transform="translate(173.02,140.30) scale(1.124,1)" font-family="'Liberation Serif', serif" font-size="12.0" fill="#000" stroke="#fff" stroke-width="0.08">10</text>
<path d="M193.70,130.60 Q189.30,136.95 193.70,143.30 Q191.10,136.95 193.70,130.60Z" fill="#000" stroke="#000" stroke-width="0.35"/>
<text transform="translate(194.40,140.30) scale(0.952,1)" font-family="'Liberation Serif', serif" font-size="12.0" font-style="italic" fill="#000">η</text>
<line x1="200.80" y1="143.30" x2="207.50" y2="130.60" stroke="#000" stroke-width="0.8"/>
<text transform="translate(209.76,140.30) scale(1.167,1)" font-family="'Liberation Serif', serif" font-size="12.0" font-style="italic" fill="#000" stroke="#fff" stroke-width="0.08">s</text>
<text transform="translate(219.44,140.60) scale(1.250,1)" font-family="'Liberation Serif', serif" font-size="13.5" fill="#000">≈</text>
<text transform="translate(233.73,140.30) scale(1.051,1)" font-family="'Liberation Serif', serif" font-size="12.0" fill="#000" stroke="#fff" stroke-width="0.08">0.62</text>
<path d="M257.00,130.60 Q261.60,136.95 257.00,143.30 Q259.80,136.95 257.00,130.60Z" fill="#000" stroke="#000" stroke-width="0.35"/>
<line x1="270" y1="137.00" x2="310.2" y2="137.00" stroke="#ff0000" stroke-width="2.0"/>
<text transform="translate(148.94,162.30) scale(1.043,1)" font-family="'Liberation Serif', serif" font-size="13.0" font-style="italic" fill="#000">λ</text>
<text transform="translate(160.01,162.30) scale(1.250,1)" font-family="'Liberation Serif', serif" font-size="12.0" fill="#000">=</text>
<text transform="translate(173.02,162.30) scale(1.124,1)" font-family="'Liberation Serif', serif" font-size="12.0" fill="#000" stroke="#fff" stroke-width="0.08">15</text>
<path d="M193.70,152.60 Q189.30,158.95 193.70,165.30 Q191.10,158.95 193.70,152.60Z" fill="#000" stroke="#000" stroke-width="0.35"/>
<text transform="translate(194.40,162.30) scale(0.952,1)" font-family="'Liberation Serif', serif" font-size="12.0" font-style="italic" fill="#000">η</text>
<line x1="200.80" y1="165.30" x2="207.50" y2="152.60" stroke="#000" stroke-width="0.8"/>
<text transform="translate(209.76,162.30) scale(1.167,1)" font-family="'Liberation Serif', serif" font-size="12.0" font-style="italic" fill="#000" stroke="#fff" stroke-width="0.08">s</text>
<text transform="translate(219.44,162.60) scale(1.250,1)" font-family="'Liberation Serif', serif" font-size="13.5" fill="#000">≈</text>
<text transform="translate(233.74,162.30) scale(1.026,1)" font-family="'Liberation Serif', serif" font-size="12.0" fill="#000" stroke="#fff" stroke-width="0.08">0.34</text>
<path d="M257.00,152.60 Q261.60,158.95 257.00,165.30 Q259.80,158.95 257.00,152.60Z" fill="#000" stroke="#000" stroke-width="0.35"/>
<line x1="270" y1="159.00" x2="310.2" y2="159.00" stroke="#006400" stroke-width="2.0" stroke-dasharray="7.47,11.20"/>
<text transform="translate(148.94,184.30) scale(1.043,1)" font-family="'Liberation Serif', serif" font-size="13.0" font-style="italic" fill="#000">λ</text>
<text transform="translate(160.01,184.30) scale(1.250,1)" font-family="'Liberation Serif', serif" font-size="12.0" fill="#000">=</text>
<text transform="translate(173.65,184.30) scale(1.069,1)" font-family="'Liberation Serif', serif" font-size="12.0" fill="#000" stroke="#fff" stroke-width="0.08">20</text>
<path d="M193.70,174.60 Q189.30,180.95 193.70,187.30 Q191.10,180.95 193.70,174.60Z" fill="#000" stroke="#000" stroke-width="0.35"/>
<text transform="translate(194.40,184.30) scale(0.952,1)" font-family="'Liberation Serif', serif" font-size="12.0" font-style="italic" fill="#000">η</text>
<line x1="200.80" y1="187.30" x2="207.50" y2="174.60" stroke="#000" stroke-width="0.8"/>
<text transform="translate(209.76,184.30) scale(1.167,1)" font-family="'Liberation Serif', serif" font-size="12.0" font-style="italic" fill="#000" stroke="#fff" stroke-width="0.08">s</text>
<text transform="translate(219.44,184.60) scale(1.250,1)" font-family="'Liberation Serif', serif" font-size="13.5" fill="#000">≈</text>
<text transform="translate(233.73,184.30) scale(1.051,1)" font-family="'Liberation Serif', serif" font-size="12.0" fill="#000" stroke="#fff" stroke-width="0.08">0.22</text>
<path d="M257.00,174.60 Q261.60,180.95 257.00,187.30 Q259.80,180.95 257.00,174.60Z" fill="#000" stroke="#000" stroke-width="0.35"/>
<line x1="270" y1="181.00" x2="310.2" y2="181.00" stroke="#0000ff" stroke-width="2.0" stroke-dasharray="3.73,5.60"/>
<text transform="translate(148.94,206.30) scale(1.043,1)" font-family="'Liberation Serif', serif" font-size="13.0" font-style="italic" fill="#000">λ</text>
<text transform="translate(160.01,206.30) scale(1.250,1)" font-family="'Liberation Serif', serif" font-size="12.0" fill="#000">=</text>
<text transform="translate(173.65,206.30) scale(1.069,1)" font-family="'Liberation Serif', serif" font-size="12.0" fill="#000" stroke="#fff" stroke-width="0.08">25</text>
<path d="M193.70,196.60 Q189.30,202.95 193.70,209.30 Q191.10,202.95 193.70,196.60Z" fill="#000" stroke="#000" stroke-width="0.35"/>
<text transform="translate(194.40,206.30) scale(0.952,1)" font-family="'Liberation Serif', serif" font-size="12.0" font-style="italic" fill="#000">η</text>
<line x1="200.80" y1="209.30" x2="207.50" y2="196.60" stroke="#000" stroke-width="0.8"/>
<text transform="translate(209.76,206.30) scale(1.167,1)" font-family="'Liberation Serif', serif" font-size="12.0" font-style="italic" fill="#000" stroke="#fff" stroke-width="0.08">s</text>
<text transform="translate(219.44,206.60) scale(1.250,1)" font-family="'Liberation Serif', serif" font-size="13.5" fill="#000">≈</text>
<text transform="translate(233.73,206.30) scale(1.034,1)" font-family="'Liberation Serif', serif" font-size="12.0" fill="#000" stroke="#fff" stroke-width="0.08">0.16</text>
<path d="M257.00,196.60 Q261.60,202.95 257.00,209.30 Q259.80,202.95 257.00,196.60Z" fill="#000" stroke="#000" stroke-width="0.35"/>
<line x1="270" y1="203.00" x2="310.2" y2="203.00" stroke="#ffa500" stroke-width="2.0" stroke-dasharray="14.93,7.47"/>
<text transform="translate(161.10,228.60) scale(1.001,1)" font-family="'Liberation Sans', sans-serif" font-size="14.4" fill="#000">scaling curve fit</text>
<line x1="270" y1="225.00" x2="310.2" y2="225.00" stroke="#000" stroke-width="2.0" stroke-dasharray="3.73,5.60"/>
<text transform="translate(14.50,149.56) rotate(-90) scale(1.131,1)" font-family="'Liberation Serif', serif" font-size="14.4" font-style="italic" fill="#000" stroke="#fff" stroke-width="0.2">T</text>
<line x1="1.9" y1="146.2" x2="1.9" y2="140.0" stroke="#000" stroke-width="0.9"/>
<text transform="translate(8.40,138.16) rotate(-90) scale(1.250,1)" font-family="'Liberation Serif', serif" font-size="10.0" font-style="italic" fill="#000" stroke="#fff" stroke-width="0.2">μν</text>
<line x1="17.5" y1="124.2" x2="3.4" y2="119.6" stroke="#000" stroke-width="0.9"/>
<text transform="translate(14.50,117.69) rotate(-90) scale(1.056,1)" font-family="'Liberation Serif', serif" font-size="14.4" font-style="italic" fill="#000" stroke="#fff" stroke-width="0.2">T</text>
<line x1="1.9" y1="114.9" x2="1.9" y2="109.3" stroke="#000" stroke-width="0.9"/>
<text transform="translate(6.60,105.91) rotate(-90) scale(1.250,1)" font-family="'Liberation Serif', serif" font-size="10.0" font-style="italic" fill="#000" stroke="#fff" stroke-width="0.2">μν</text>
<text transform="translate(17.80,108.89) rotate(-90) scale(1.250,1)" font-family="'Liberation Serif', serif" font-size="10.0" fill="#000" stroke="#fff" stroke-width="0.2">id.</text>
</g>
</svg>
</body></html>
